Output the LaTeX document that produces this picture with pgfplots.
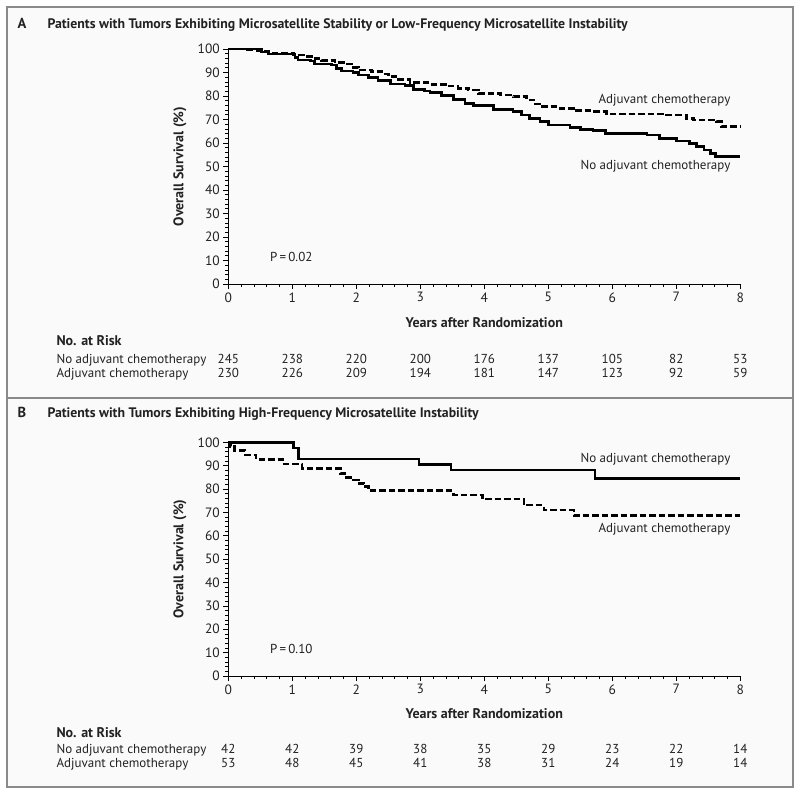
\documentclass[border=0pt]{standalone}
\usepackage{pgfplots}
\pgfplotsset{compat=1.18}
\usepackage{fontspec}
\setmainfont{PT Sans}
\definecolor{txt}{HTML}{222222}
\definecolor{frame}{HTML}{8A8A8A}
\newcommand{\fs}{\fontsize{13}{15}\selectfont}
\newcommand{\fb}{\bfseries\fontsize{14}{16}\selectfont}
\pgfplotsset{
  kmaxis/.style={
    scale only axis, width=512pt, height=235pt,
    anchor=south west,
    xmin=0, xmax=8, ymin=0, ymax=100,
    enlargelimits=false,
    axis lines=left, axis line style={-, line width=0.9pt, black},
    xtick={0,...,8}, ytick={0,10,...,100},
    minor x tick num=4, minor y tick num=4,
    tick align=outside, major tick length=5pt, minor tick length=3pt,
    every tick/.style={line width=0.7pt, black},
    ticklabel style={font=\fontsize{13.5}{15}\selectfont, text=txt},
    /pgf/number format/assume math mode=true,
    clip=false,
  },
  solidkm/.style={const plot mark left, line width=2.6pt, black},
  dashkm/.style={const plot mark left, line width=2.6pt, black, dash pattern=on 6.5pt off 3pt},
}
\begin{document}
\begin{tikzpicture}[x=1pt,y=1pt]
\path[use as bounding box] (0,0) rectangle (800,-793);
\fill[black!2] (7,-7) rectangle (793,-787);
\draw[frame, line width=2pt] (7,-7) rectangle (793,-787);
\draw[frame, line width=2pt] (7,-398) -- (793,-398);

% ---------------- Panel A ----------------
\node[anchor=base west, font=\bfseries\fontsize{14.5}{16}\selectfont, text=txt] at (14,-28) {A};
\node[anchor=base west, font=\bfseries\fontsize{13.8}{16}\selectfont, text=txt] at (44,-28) {Patients with Tumors Exhibiting Microsatellite Stability or Low-Frequency Microsatellite Instability};

\begin{axis}[kmaxis, at={(228.3pt,-284pt)}]
\addplot[dashkm] coordinates {
(0,100) (0.25,99.6) (0.45,99.2) (0.63,98.2) (1.02,97.5) (1.20,96.7) (1.30,95.9)
(1.46,95.0) (1.67,94.2) (1.82,93.6) (1.93,92.2) (2.03,91.1) (2.24,90.4) (2.40,89.4)
(2.50,88.2) (2.66,87.0) (2.84,85.8) (3.12,85.0) (3.39,84.3) (3.59,83.3) (3.75,82.6)
(3.91,81.1) (4.25,80.4) (4.45,79.7) (4.66,78.3) (4.80,76.6) (4.87,75.5) (5.18,74.8)
(5.44,73.8) (5.70,73.4) (5.91,72.3) (6.85,71.9) (7.16,70.5) (7.27,69.8) (7.63,69.1)
(7.71,66.9) (8.00,66.9)};
\addplot[solidkm] coordinates {
(0,100) (0.52,98.8) (0.63,97.9) (1.04,96.5) (1.09,95.3) (1.28,94.9) (1.35,93.6)
(1.61,93.2) (1.69,91.8) (1.77,90.6) (1.95,90.1) (2.03,89.0) (2.19,87.9) (2.34,86.5)
(2.53,85.1) (2.76,84.5) (2.89,82.8) (3.07,82.1) (3.15,81.4) (3.33,80.1) (3.52,78.6)
(3.70,76.9) (3.83,76.0) (4.14,74.3) (4.45,73.4) (4.58,71.9) (4.71,70.5) (4.87,69.1)
(5.00,67.7) (5.34,66.7) (5.50,65.8) (5.70,65.3) (5.89,64.1) (6.54,63.4) (6.74,62.0)
(7.00,60.9) (7.21,59.9) (7.32,58.4) (7.43,57.0) (7.53,55.6) (7.61,54.2) (8.00,54.2)};
\node[anchor=east, font=\fs, text=txt] at (axis cs:7.9,78.3) {Adjuvant chemotherapy};
\node[anchor=east, font=\fs, text=txt] at (axis cs:7.9,50.2) {No adjuvant chemotherapy};
\node[anchor=west, font=\fs, text=txt] at (axis cs:0.6,11.6) {P\,=\,0.02};
\end{axis}
\node[rotate=90, font=\fb, text=txt] at (180,-166.5) {Overall Survival (\%)};
\node[anchor=base, font=\fb, text=txt] at (484.3,-327) {Years after Randomization};
\node[anchor=base west, font=\fb, text=txt] at (53,-345) {No. at Risk};
\node[anchor=base west, font=\fs, text=txt] at (53,-363) {No adjuvant chemotherapy};
\node[anchor=base west, font=\fs, text=txt] at (53,-377) {Adjuvant chemotherapy};
\foreach \v [count=\i from 0] in {245,238,220,200,176,137,105,82,53}
  \node[anchor=base, font=\fs, text=txt] at (228.3+64*\i,-363) {\v};
\foreach \v [count=\i from 0] in {230,226,209,194,181,147,123,92,59}
  \node[anchor=base, font=\fs, text=txt] at (228.3+64*\i,-377) {\v};

% ---------------- Panel B ----------------
\node[anchor=base west, font=\bfseries\fontsize{14.5}{16}\selectfont, text=txt] at (14,-417) {B};
\node[anchor=base west, font=\bfseries\fontsize{13.8}{16}\selectfont, text=txt] at (44,-417) {Patients with Tumors Exhibiting High-Frequency Microsatellite Instability};

\begin{axis}[kmaxis, at={(228.3pt,-676pt)}, height=233.7pt]
\addplot[dashkm] coordinates {
(0,100) (0.03,98.1) (0.10,96.5) (0.26,94.6) (0.43,92.6) (0.85,90.8) (1.15,88.9)
(1.75,86.7) (1.82,85.0) (1.95,83.9) (2.03,82.5) (2.12,81.0) (2.19,79.3) (3.52,77.5)
(3.97,75.7) (4.62,73.1) (4.93,71.0) (5.40,68.7) (8.00,68.7)};
\addplot[solidkm] coordinates {
(0,100) (1.02,97.6) (1.10,92.9) (2.98,90.5) (3.48,88.1) (5.73,84.6) (8.00,84.6)};
\node[anchor=east, font=\fs, text=txt] at (axis cs:7.9,92.7) {No adjuvant chemotherapy};
\node[anchor=east, font=\fs, text=txt] at (axis cs:7.9,62.8) {Adjuvant chemotherapy};
\node[anchor=west, font=\fs, text=txt] at (axis cs:0.6,11.4) {P\,=\,0.10};
\end{axis}
\node[rotate=90, font=\fb, text=txt] at (180,-559) {Overall Survival (\%)};
\node[anchor=base, font=\fb, text=txt] at (484.3,-718) {Years after Randomization};
\node[anchor=base west, font=\fb, text=txt] at (53,-737) {No. at Risk};
\node[anchor=base west, font=\fs, text=txt] at (53,-753) {No adjuvant chemotherapy};
\node[anchor=base west, font=\fs, text=txt] at (53,-767) {Adjuvant chemotherapy};
\foreach \v [count=\i from 0] in {42,42,39,38,35,29,23,22,14}
  \node[anchor=base, font=\fs, text=txt] at (228.3+64*\i,-753) {\v};
\foreach \v [count=\i from 0] in {53,48,45,41,38,31,24,19,14}
  \node[anchor=base, font=\fs, text=txt] at (228.3+64*\i,-767) {\v};
\end{tikzpicture}
\end{document}
